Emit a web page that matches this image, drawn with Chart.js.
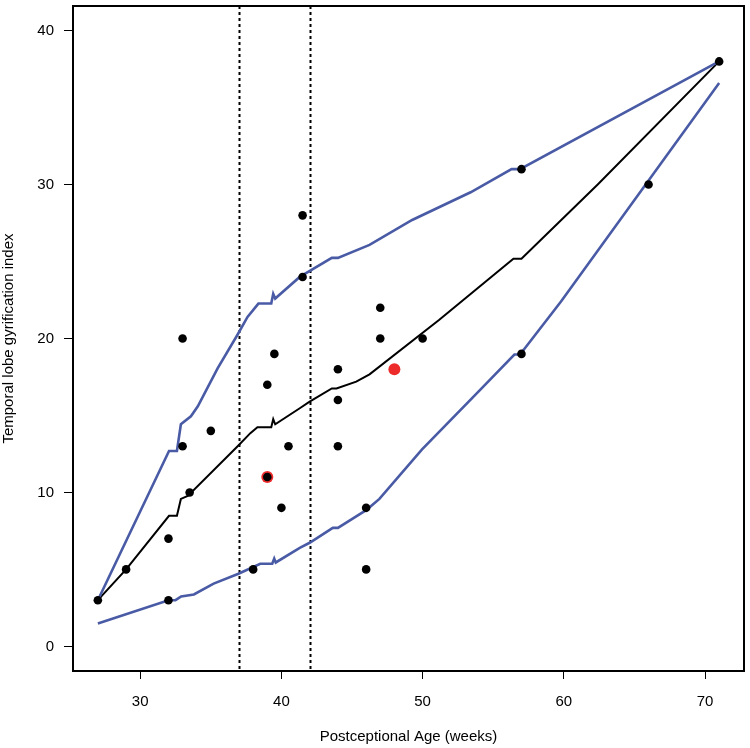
<!DOCTYPE html>
<html>
<head>
<meta charset="utf-8">
<script src="https://cdn.jsdelivr.net/npm/chart.js@4.4.0/dist/chart.umd.min.js"></script>
<style>
  html, body { margin: 0; padding: 0; background: #fff; }
  #chart-area { display: block; }
</style>
</head>
<body>
<canvas id="chart-area" width="750" height="748"></canvas>
<script>
// observed subjects
var ages = [27, 29, 32, 32, 33, 33, 33.5, 35, 38, 39, 39, 39.5, 40, 40.5, 41.5, 41.5, 44, 44, 44, 46, 46, 47, 47, 50, 57, 57, 66, 71];
var gyri = [3, 5, 3, 7, 13, 20, 10, 14, 5, 11, 17, 19, 9, 13, 28, 24, 18, 16, 13, 9, 5, 22, 20, 20, 31, 19, 30, 38];

// highlighted subjects
var redAges = [39, 48];
var redGyri = [11, 18];

// upper band
var upX = [27, 32.04, 32.6, 32.88, 33.59, 34.08, 35.48, 36.9, 37.6, 38.37, 39.28, 39.42, 39.56, 41.3, 43.57, 44, 46.24, 49.26, 53.4, 56.3, 56.9, 71];
var upY = [3, 12.69, 12.69, 14.43, 14.95, 15.6, 18.06, 20.26, 21.4, 22.27, 22.27, 22.9, 22.6, 24, 25.24, 25.24, 26.08, 27.7, 29.5, 31, 31, 38];

// median
var medX = [27, 29, 32.04, 32.6, 32.88, 33.37, 36.9, 37.8, 38.3, 39.28, 39.42, 39.56, 41.3, 42, 43.57, 43.9, 45.3, 46.24, 51.16, 56.43, 57, 62.4, 71];
var medY = [3, 5, 8.48, 8.48, 9.58, 9.77, 13, 13.85, 14.24, 14.24, 14.76, 14.43, 15.47, 15.9, 16.76, 16.76, 17.2, 17.67, 21.2, 25.18, 25.18, 30, 38];

// lower band
var loX = [27, 32, 32.5, 32.9, 33.8, 35.2, 36.96, 38.5, 39.35, 39.49, 39.6, 41.3, 42, 43.64, 44, 46.03, 46.94, 49.96, 53.97, 56.5, 56.9, 59.8, 71];
var loY = [1.49, 3, 3, 3.24, 3.37, 4.08, 4.72, 5.37, 5.37, 5.7, 5.45, 6.4, 6.73, 7.7, 7.7, 8.87, 9.58, 12.8, 16.57, 18.96, 18.96, 22.4, 36.6];

var refWeeks = [37, 42];
var xTicks = [30, 40, 50, 60, 70];
var yTicks = [0, 10, 20, 30, 40];

function pairs(xs, ys) {
    var out = [];
    for (var i = 0; i < xs.length; i++) {
        out.push({x: xs[i], y: ys[i]});
    }
    return out;
}

function lineSet(xs, ys, colour, width) {
    return {
        type: 'line',
        data: pairs(xs, ys),
        borderColor: colour,
        borderWidth: width,
        pointRadius: 0,
        tension: 0,
        fill: false
    };
}

var boxPlugin = {
    id: 'box',
    beforeDatasetsDraw: function(chart) {
        var ctx = chart.ctx, a = chart.chartArea, xs = chart.scales.x;
        ctx.save();
        ctx.strokeStyle = '#000';
        ctx.lineWidth = 2;
        ctx.setLineDash([3, 3]);
        refWeeks.forEach(function(w) {
            var px = Math.round(xs.getPixelForValue(w)) + 0.5;
            ctx.beginPath();
            ctx.moveTo(px, a.top);
            ctx.lineTo(px, a.bottom);
            ctx.stroke();
        });
        ctx.restore();
    },
    afterDraw: function(chart) {
        var ctx = chart.ctx, a = chart.chartArea;
        ctx.save();
        ctx.strokeStyle = '#000';
        ctx.lineWidth = 2;
        ctx.strokeRect(a.left, a.top, a.right - a.left, a.bottom - a.top);
        ctx.restore();
    }
};

var font = {family: '"Liberation Sans", Arial, sans-serif', size: 15};
var titleFont = {family: '"Liberation Sans", Arial, sans-serif', size: 15};

var config = {
    type: 'scatter',
    data: {
        datasets: [
            {
                data: pairs(ages, gyri),
                backgroundColor: '#000',
                borderWidth: 0,
                pointRadius: 4.3,
                pointHoverRadius: 4.3
            },
            {
                data: pairs(redAges, redGyri),
                backgroundColor: '#ee2b2b',
                borderWidth: 0,
                pointRadius: 6,
                pointHoverRadius: 6
            },
            lineSet(upX, upY, '#4a5ba6', 2.6),
            lineSet(medX, medY, '#000', 2),
            lineSet(loX, loY, '#4a5ba6', 2.6)
        ]
    },
    options: {
        responsive: false,
        animation: false,
        events: [],
        layout: { padding: {top: 3, right: 5, left: 0, bottom: 0} },
        plugins: {
            legend: { display: false },
            tooltip: { enabled: false }
        },
        scales: {
            x: {
                type: 'linear',
                min: 25.24,
                max: 72.76,
                afterBuildTicks: function(s) { s.ticks = xTicks.map(function(v) { return {value: v}; }); },
                afterFit: function(s) { s.height = 77; s.paddingLeft = 0; s.paddingRight = 0; },
                border: { display: false },
                grid: { drawOnChartArea: false, drawTicks: true, tickLength: 8, color: '#000', lineWidth: 1 },
                ticks: { color: '#000', font: font, padding: 14, maxRotation: 0 },
                title: { display: true, text: 'Postceptional Age (weeks)', color: '#000', font: titleFont, padding: {top: 0, bottom: 2} }
            },
            y: {
                type: 'linear',
                min: -1.6,
                max: 41.6,
                afterBuildTicks: function(s) { s.ticks = yTicks.map(function(v) { return {value: v}; }); },
                afterFit: function(s) { s.width = 73; s.paddingTop = 0; s.paddingBottom = 0; },
                border: { display: false },
                grid: { drawOnChartArea: false, drawTicks: true, tickLength: 9, color: '#000', lineWidth: 1 },
                ticks: { color: '#000', font: font, padding: 10 },
                title: { display: true, text: 'Temporal lobe gyrification index', color: '#000', font: titleFont, padding: {top: 0, bottom: 0} }
            }
        }
    },
    plugins: [boxPlugin]
};

var ctx = document.getElementById("chart-area").getContext("2d");
window.myScatter = new Chart(ctx, config);
</script>
</body>
</html>
